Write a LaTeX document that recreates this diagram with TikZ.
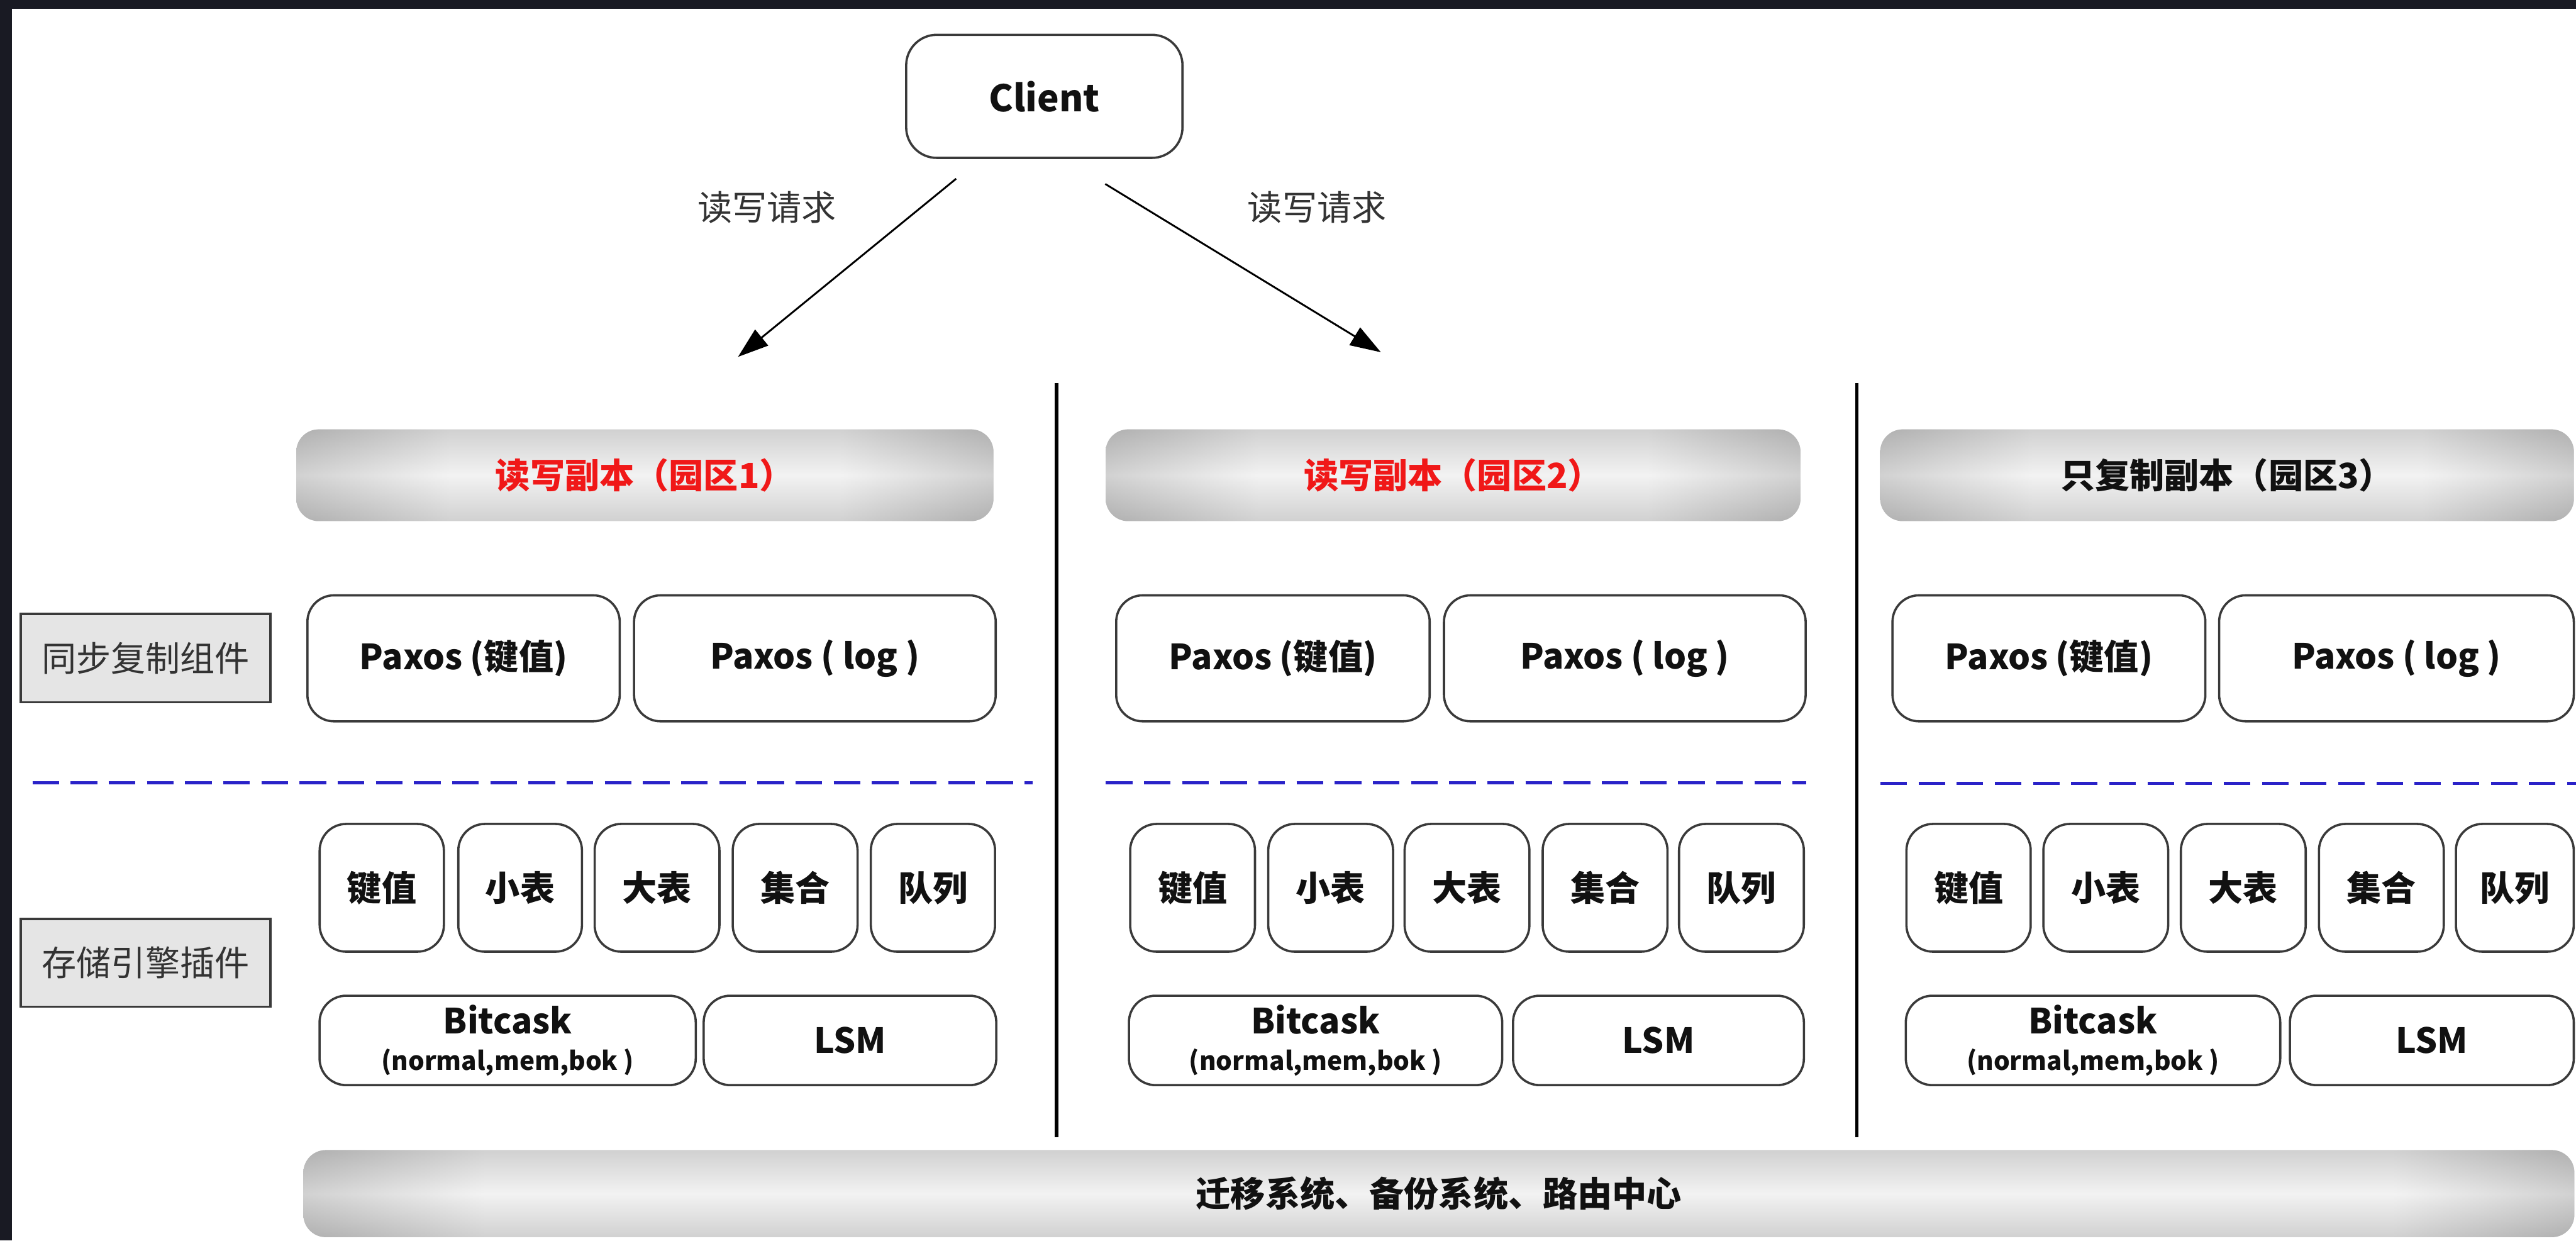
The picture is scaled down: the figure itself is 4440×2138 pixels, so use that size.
\documentclass[tikz,border=0pt]{standalone}
\usepackage{fontspec}
\setmainfont{Noto Sans CJK SC}
\usetikzlibrary{arrows.meta}

\definecolor{frame}{HTML}{191A23}
\definecolor{ink}{HTML}{111111}
\definecolor{soft}{HTML}{333333}
\definecolor{edge}{HTML}{3A3A3A}
\definecolor{shEdge}{HTML}{B0B0B0}
\definecolor{shMid}{HTML}{F3F3F3}
\definecolor{tagFill}{HTML}{E5E5E5}
\definecolor{dashBlue}{HTML}{2A22C8}
\definecolor{hot}{HTML}{F01818}

% horizontal profiles of the gray bars (visible range is 25bp..75bp)
\pgfdeclarehorizontalshading{hdrH}{100bp}{color(0bp)=(shEdge); color(25bp)=(shEdge);
  color(36bp)=(shMid); color(64bp)=(shMid); color(75bp)=(shEdge); color(100bp)=(shEdge)}
\pgfdeclarehorizontalshading{longH}{100bp}{color(0bp)=(shEdge); color(25bp)=(shEdge);
  color(29bp)=(shMid); color(71bp)=(shMid); color(75bp)=(shEdge); color(100bp)=(shEdge)}

% font of the engine option line
\newcommand\engineNote{\bfseries\fontsize{12.5}{14}\selectfont}

% node placed by its two corners (pixel units of the canvas)
\newcommand\pxnode[7]{%
  \pgfmathsetmacro\pxw{(#5-#3)/100}%
  \pgfmathsetmacro\pxh{(#6-#4)/100}%
  \node[#1, minimum width=\pxw cm, minimum height=\pxh cm] (#2) at ({(#3+#5)/2},{(#4+#6)/2}) {#7};%
}

\tikzset{
  big/.style={font=\bfseries\fontsize{17}{20}\selectfont},
  box/.style={draw=edge, line width=1.1pt, fill=white, rounded corners=13pt,
    inner sep=0pt, text=ink, align=center, big},
  tag/.style={draw=edge, line width=1.1pt, fill=tagFill, inner sep=0pt,
    text=soft, font=\fontsize{17}{20}\selectfont},
  bar/.style={rounded corners=11pt, inner sep=0pt, text=ink, big,
    shading=#1, shading angle=0,
    path picture={
      \shade[top color=shEdge, bottom color=shEdge, middle color=shMid, fill opacity=0.5]
        (path picture bounding box.south west) rectangle (path picture bounding box.north east);
    }},
  bar/.default=hdrH,
  lbl/.style={text=soft, font=\fontsize{17}{20}\selectfont, inner sep=0pt},
  req/.style={draw=black, line width=0.9pt, -{Triangle[length=15pt,width=10pt]}},
  split/.style={draw=black, line width=1.6pt},
  layer/.style={draw=dashBlue, line width=1.4pt, dash pattern=on 13pt off 5.7pt},
}

\begin{document}
\begin{tikzpicture}[x=0.01cm, y=-0.01cm]
\useasboundingbox (0,0) rectangle (4440,2138);
\fill[white] (0,0) rectangle (4440,2138);
\fill[frame] (0,0) rectangle (4440,15);
\fill[frame] (0,0) rectangle (21,2138);

% client and the two request arrows
\pxnode{box, rounded corners=15pt, font=\bfseries\fontsize{18}{21}\selectfont}{client}{1562}{60}{2038}{272}{Client}
\node[lbl] (reqA) at (1322,357) {读写请求};
\node[lbl] (reqB) at (2270,357) {读写请求};
\coordinate (rAfrom) at (1648,308);
\coordinate (rAto) at (1272,615);
\coordinate (rBfrom) at (1905,317);
\coordinate (rBto) at (2380,607);
\draw[req] (rAfrom) -- (rAto);
\draw[req] (rBfrom) -- (rBto);

% zone separators
\coordinate (sepAtop) at (1821,660);
\coordinate (sepAbot) at (1821,1960);
\coordinate (sepBtop) at (3200,660);
\coordinate (sepBbot) at (3200,1960);
\draw[split] (sepAtop) -- (sepAbot);
\draw[split] (sepBtop) -- (sepBbot);

% zone headers
\pxnode{bar, text=hot}{hdrA}{511}{740}{1712}{898}{读写副本（园区1）}
\pxnode{bar, text=hot}{hdrB}{1906}{740}{3103}{898}{读写副本（园区2）}
\pxnode{bar}{hdrC}{3241}{740}{4436}{898}{只复制副本（园区3）}

% row labels
\pxnode{tag}{tagSync}{36}{1058}{466}{1210}{同步复制组件}
\pxnode{tag}{tagStore}{36}{1584}{466}{1735}{存储引擎插件}

% replication components
\pxnode{box}{pkvA}{530}{1026}{1068}{1243}{Paxos (键值)}
\pxnode{box}{plogA}{1093}{1026}{1716}{1243}{Paxos ( log )}
\pxnode{box}{pkvB}{1924}{1026}{2464}{1243}{Paxos (键值)}
\pxnode{box}{plogB}{2489}{1026}{3112}{1243}{Paxos ( log )}
\pxnode{box}{pkvC}{3262}{1026}{3801}{1243}{Paxos (键值)}
\pxnode{box}{plogC}{3825}{1026}{4436}{1243}{Paxos ( log )}

% layer boundaries
\coordinate (dAl) at (56,1349);   \coordinate (dAr) at (1780,1349);
\coordinate (dBl) at (1906,1349); \coordinate (dBr) at (3113,1349);
\coordinate (dCl) at (3241,1350); \coordinate (dCr) at (4440,1350);
\draw[layer] (dAl) -- (dAr);
\draw[layer] (dBl) -- (dBr);
\draw[layer] (dCl) -- (dCr);

% data structures
\pxnode{box}{kvA}{551}{1420}{765}{1640}{键值}
\pxnode{box}{stA}{790}{1420}{1003}{1640}{小表}
\pxnode{box}{btA}{1025}{1420}{1240}{1640}{大表}
\pxnode{box}{setA}{1263}{1420}{1478}{1640}{集合}
\pxnode{box}{qA}{1501}{1420}{1715}{1640}{队列}
\pxnode{box}{kvB}{1948}{1420}{2163}{1640}{键值}
\pxnode{box}{stB}{2186}{1420}{2401}{1640}{小表}
\pxnode{box}{btB}{2421}{1420}{2636}{1640}{大表}
\pxnode{box}{setB}{2659}{1420}{2874}{1640}{集合}
\pxnode{box}{qB}{2894}{1420}{3109}{1640}{队列}
\pxnode{box}{kvC}{3286}{1420}{3500}{1640}{键值}
\pxnode{box}{stC}{3522}{1420}{3737}{1640}{小表}
\pxnode{box}{btC}{3759}{1420}{3974}{1640}{大表}
\pxnode{box}{setC}{3997}{1420}{4212}{1640}{集合}
\pxnode{box}{qC}{4233}{1420}{4436}{1640}{队列}

% storage engines
\pxnode{box}{bcA}{551}{1716}{1199}{1870}{Bitcask\\[-2pt]{\engineNote(normal,mem,bok )}}
\pxnode{box}{lsmA}{1213}{1716}{1717}{1870}{LSM}
\pxnode{box}{bcB}{1946}{1716}{2589}{1870}{Bitcask\\[-2pt]{\engineNote(normal,mem,bok )}}
\pxnode{box}{lsmB}{2608}{1716}{3109}{1870}{LSM}
\pxnode{box}{bcC}{3285}{1716}{3930}{1870}{Bitcask\\[-2pt]{\engineNote(normal,mem,bok )}}
\pxnode{box}{lsmC}{3947}{1716}{4436}{1870}{LSM}

% shared services
\pxnode{bar=longH}{infra}{524}{1982}{4436}{2132}{迁移系统、备份系统、路由中心}
\end{tikzpicture}
\end{document}
